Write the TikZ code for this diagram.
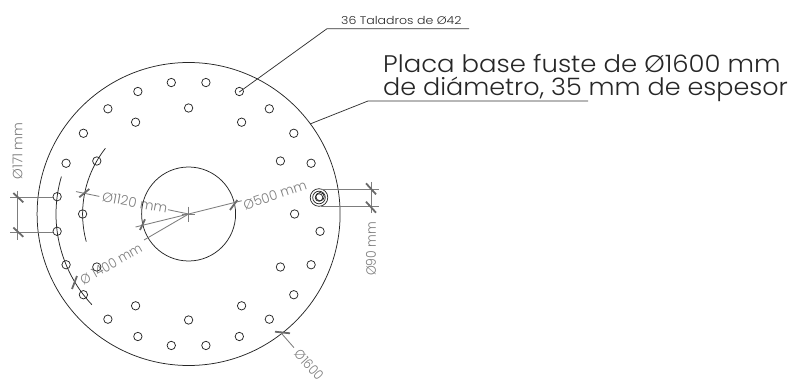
\documentclass[tikz,border=0pt]{standalone}
\usepackage{fontspec}
\setmainfont{Poppins Light}
\usetikzlibrary{calc}
\definecolor{dimc}{RGB}{125,125,125}
\tikzset{
 part/.style={draw=black!85,line width=0.75pt},
 hole/.style={draw=black!85,line width=0.75pt},
 leader/.style={draw=black!80,line width=0.75pt},
 dim/.style={draw=dimc,line width=0.85pt},
 tick/.style={draw=dimc!85!black,line width=1.8pt},
 dimtxt/.style={text=dimc,font=\fontsize{13.5}{13.5}\selectfont,inner sep=0pt},
 bigtxt/.style={inner sep=0pt,text=black!85,font=\fontsize{24}{24}\selectfont,anchor=base west},
}
\begin{document}
\begin{tikzpicture}[x=1pt,y=-1pt]
\useasboundingbox (0,0) rectangle (797,382);
\coordinate (c) at (188.6,214);
% texts
\node[bigtxt] (t1) at (383,73) {\scalebox{1.08}[1]{Placa base fuste de Ø1600 mm}};
\node[bigtxt] (t2) at (383,96) {\scalebox{1.06}[1]{de diámetro, 35 mm de espesor}};
\node[inner sep=0pt,text=black!85,font=\fontsize{11}{11}\selectfont,anchor=base west] (t3) at (341,25) {\scalebox{1.14}[1]{36 Taladros de Ø42}};
\node[dimtxt,rotate=90] (d171) at (17.5,151) {Ø171 mm};
\node[dimtxt,rotate=90] (d90) at (371,249) {\scalebox{0.92}[1]{Ø90 mm}};
\node[dimtxt,rotate=18.5] (d500) at (275,195) {\scalebox{0.98}[1]{Ø500 mm}};
\node[dimtxt,rotate=-10.5] (d1120) at (135,202.5) {Ø1120 mm};
\node[dimtxt,rotate=29.6] (d1400) at (111,264) {\scalebox{0.92}[1]{Ø 1400 mm}};
\node[dimtxt,rotate=-48] (d1600) at (309,365) {\scalebox{0.9}[1]{Ø1600}};
% parts
\draw[part] (c) circle (151.5);
\draw[part] (c) circle (47);
\foreach \a in {7.5,22.5,...,352.5} \draw[hole] ($(c)+(\a:132.6)$) circle (4.2);
\foreach \a in {0,30,...,330} \draw[hole] ($(c)+(\a:106)$) circle (4.2);
\coordinate (b) at (319,197.5);
\draw[part] (b) circle (8.8); \draw[part] (b) circle (6.3); \draw[part] (b) circle (3.8);
% datum arcs
\draw[part] ($(c)+(196.4:132.6)$) arc[start angle=196.4,end angle=136.8,radius=132.6];
\draw[part] ($(c)+(218.3:106)$) arc[start angle=218.3,end angle=164.9,radius=106];
% leaders
\coordinate (h1) at (239.3,92);
\coordinate (k1) at (327,28.7);
\coordinate (e1) at (469,28.7);
\draw[leader] (h1) -- (k1) -- (e1);
\coordinate (p1) at (310,124);
\coordinate (k2) at (368,101);
\coordinate (e2) at (588,101);
\draw[leader] (p1) -- (k2) -- (e2);
% center mark
\draw[dim] (188.5,206.7) -- (188.5,222);
\draw[dim] (181.7,214) -- (195,214);
% 171
\coordinate (a1) at (53,197); \coordinate (a2) at (10,197);
\coordinate (a3) at (53,232); \coordinate (a4) at (10,232);
\coordinate (a5) at (17.4,191); \coordinate (a6) at (17.4,240);
\draw[dim] (a1) -- (a2); \draw[dim] (a3) -- (a4); \draw[dim] (a5) -- (a6);
\draw[tick] (13.3,193) -- (23.3,202.3);
\draw[tick] (13.3,227.5) -- (23.3,236.8);
% 90
\coordinate (b1) at (321,189); \coordinate (b2) at (379.3,189);
\coordinate (b3) at (321,206); \coordinate (b4) at (379.3,206);
\coordinate (b5) at (371.5,182); \coordinate (b6) at (371.5,213);
\draw[dim] (b1) -- (b2); \draw[dim] (b3) -- (b4); \draw[dim] (b5) -- (b6);
\draw[tick] (366,183.3) -- (376,194.3);
\draw[tick] (366,201.7) -- (376,212.7);
% 500
\coordinate (r1) at (241.7,200.7); \coordinate (l1) at (135.5,227);
\draw[dim] (r1) -- (c) -- (l1);
\draw[tick] (230,210) -- (237.3,200);
\draw[tick] (140,230) -- (145,219.3);
% 1120
\coordinate (m1) at (168,209.7); \coordinate (m2) at (99.3,196.4); \coordinate (m3) at (76,191.6);
\draw[dim] (c) -- (m1); \draw[dim] (m2) -- (m3);
\draw[tick] (79.3,197.3) -- (89.3,189);
% 1400
\coordinate (q1) at (144,240);
\draw[dim] (c) -- (q1);
\draw[tick] (72,289) -- (77,276);
% 1600
\coordinate (v1) at (280,331.7); \coordinate (v2) at (294,347.7);
\draw[dim] (v1) -- (v2);
\draw[tick] (275,331.7) -- (290,333.3);
\end{tikzpicture}
\end{document}
